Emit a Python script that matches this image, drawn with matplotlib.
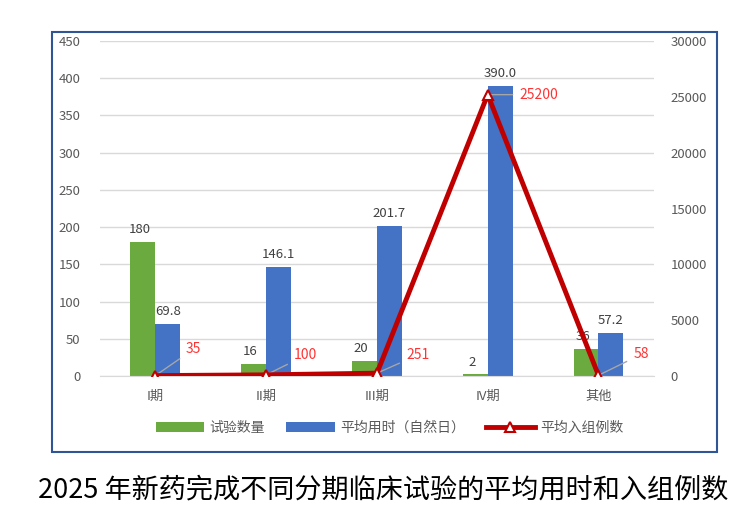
import numpy as np
import matplotlib
matplotlib.use('Agg')
import matplotlib.pyplot as plt
from matplotlib.patches import Rectangle

plt.rcParams['font.family'] = ['Noto Sans CJK SC', 'DejaVu Sans']

# 数据
categories = ['I期', 'II期', 'III期', 'IV期', '其他']
trial_counts = [180, 16, 20, 2, 36]
avg_days = [69.8, 146.1, 201.7, 390.0, 57.2]
avg_enroll = [35, 100, 251, 25200, 58]
count_labels = ['180', '16', '20', '2', '36']
days_labels = ['69.8', '146.1', '201.7', '390.0', '57.2']

green = '#6AAA3F'
blue = '#4472C4'
red = '#C00000'
gray = '#595959'

fig = plt.figure(figsize=(7.49, 5.2), dpi=100)
ax = fig.add_axes([0.1335, 0.277, 0.7395, 0.644])

x = np.arange(len(categories))
w = 0.225
b1 = ax.bar(x - w / 2, trial_counts, w, color=green, label='试验数量', zorder=2)
b2 = ax.bar(x + w / 2, avg_days, w, color=blue, label='平均用时（自然日）', zorder=2)

for rect, s in zip(b1, count_labels):
    ax.text(rect.get_x() + rect.get_width() / 2 - 0.03, rect.get_height() + 8, s,
            ha='center', va='bottom', fontsize=9.5, color='#404040')
for rect, s in zip(b2, days_labels):
    ax.text(rect.get_x() + rect.get_width() / 2, rect.get_height() + 8, s,
            ha='center', va='bottom', fontsize=9.5, color='#404040')

ax.set_ylim(0, 450)
ax.set_yticks(range(0, 451, 50))
ax.set_xlim(-0.5, 4.5)
ax.set_xticks(x)
ax.set_xticklabels(categories)
ax.grid(axis='y', color='#D9D9D9', linewidth=1, zorder=0)
for s in ['top', 'right', 'left']:
    ax.spines[s].set_visible(False)
ax.spines['bottom'].set_color('#D9D9D9')
ax.tick_params(axis='both', length=0, labelsize=9.5, labelcolor=gray)
ax.tick_params(axis='y', pad=14)
ax.tick_params(axis='x', pad=10)

ax2 = ax.twinx()
ax2.set_ylim(0, 30000)
ax2.set_yticks(range(0, 30001, 5000))
for s in ['top', 'right', 'left', 'bottom']:
    ax2.spines[s].set_visible(False)
ax2.tick_params(axis='y', length=0, labelsize=9.5, labelcolor=gray, pad=12)
line, = ax2.plot(x, avg_enroll, color=red, linewidth=3.5, marker='^',
                 markersize=7, markerfacecolor='white', markeredgecolor=red,
                 markeredgewidth=1.5, label='平均入组例数', zorder=5)

offsets = [(22, 19), (20, 14), (21, 13), (23, 0), (25, 15)]
for xi, v, off in zip(x, avg_enroll, offsets):
    ax2.annotate(str(v), xy=(xi, v), xytext=off, textcoords='offset points',
                 ha='left', va='center', fontsize=10, color='#FF3333',
                 arrowprops=dict(arrowstyle='-', color='#A6A6A6', lw=1,
                                 shrinkA=3, shrinkB=2))

handles = [b1, b2, line]
fig.legend(handles, [h.get_label() for h in handles], loc='center',
           bbox_to_anchor=(0.52, 0.177), ncol=3, frameon=False, fontsize=10,
           labelcolor=gray, handlelength=3.5, handletextpad=0.4, columnspacing=1.5)

# 外边框
fig.patches.append(Rectangle((52 / 749, 1 - 452 / 520), (717 - 52) / 749, (452 - 32) / 520,
                             transform=fig.transFigure, fill=False,
                             edgecolor='#2F5597', linewidth=1.5))

fig.text(0.512, 1 - 490 / 520, '2025 年新药完成不同分期临床试验的平均用时和入组例数',
         ha='center', va='center', fontsize=19.5, color='black', fontweight='medium')

fig.savefig('out.png', dpi=100)
